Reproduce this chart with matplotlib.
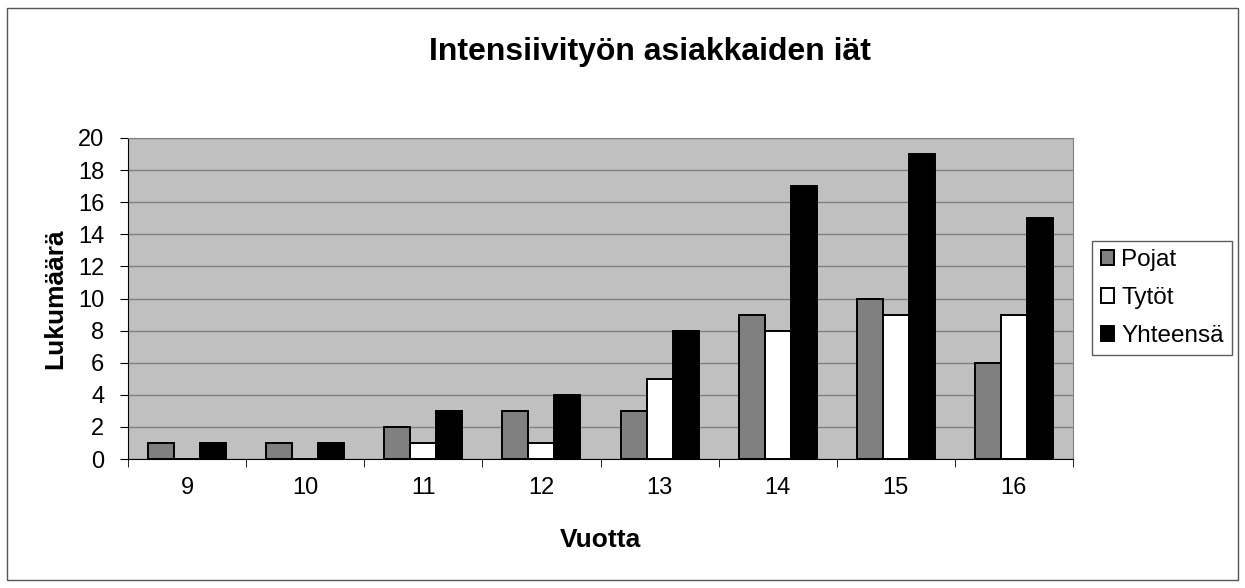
import matplotlib
matplotlib.use("Agg")
import matplotlib.pyplot as plt
import numpy as np
from matplotlib.patches import Rectangle

plt.rcParams['font.family'] = ['Liberation Sans', 'DejaVu Sans']

categories = ['9', '10', '11', '12', '13', '14', '15', '16']
pojat = [1, 1, 2, 3, 3, 9, 10, 6]
tytot = [0, 0, 1, 1, 5, 8, 9, 9]
yhteensa = [1, 1, 3, 4, 8, 17, 19, 15]
series_names = ['Pojat', 'Tytöt', 'Yhteensä']
colors = ['#808080', '#FFFFFF', '#000000']

fig = plt.figure(figsize=(12.45, 5.88), dpi=100)
fig.patches.append(Rectangle((7/1245, 1 - 580/588), 1231/1245, 572/588,
                             transform=fig.transFigure, fill=False,
                             edgecolor='#555555', linewidth=1))
ax = fig.add_axes([128/1245, 1 - 459/588, (1073-128)/1245, (459-138)/588])
ax.set_facecolor('#C0C0C0')

x = np.arange(len(categories))
w = 0.22
for i, (vals, name, c) in enumerate(zip([pojat, tytot, yhteensa], series_names, colors)):
    ax.bar(x + (i - 1) * w, vals, w, color=c, edgecolor='black', linewidth=1.4,
           label=name, zorder=3)

ax.set_xlim(-0.5, len(categories) - 0.5)
ax.set_ylim(0, 20)
ax.set_yticks(range(0, 21, 2))
ax.yaxis.grid(True, color='#808080', linewidth=1, zorder=0)
ax.set_axisbelow(True)
ax.set_xticks(x)
ax.set_xticklabels(categories, fontsize=17)
ax.tick_params(axis='x', length=0, pad=13)
ax.set_xticks(np.arange(-0.5, len(categories), 1), minor=True)
ax.tick_params(axis='x', which='minor', length=6, direction='out', color='black')
ax.tick_params(axis='y', labelsize=17, length=6, direction='out', pad=11)
for s in ['top', 'right']:
    ax.spines[s].set_color('#808080')
for s in ['left', 'bottom']:
    ax.spines[s].set_color('black')

ax.set_xlabel('Vuotta', fontsize=19, fontweight='bold', labelpad=21)
ax.set_ylabel('Lukumäärä', fontsize=19, fontweight='bold', labelpad=8)
fig.text(650/1245, 1 - 52/588, 'Intensiivityön asiakkaiden iät', fontsize=23,
         fontweight='bold', ha='center', va='center')

leg = ax.legend(loc='center left', bbox_to_anchor=(1092/1245, 1 - 298/588),
                bbox_transform=fig.transFigure, fontsize=17.5, frameon=True,
                fancybox=False, edgecolor='#333333', handlelength=0.55,
                handleheight=0.55, handletextpad=0.3, labelspacing=0.65,
                borderpad=0.35, borderaxespad=0)
leg.get_frame().set_linewidth(1)

fig.savefig('out.png', dpi=100)
